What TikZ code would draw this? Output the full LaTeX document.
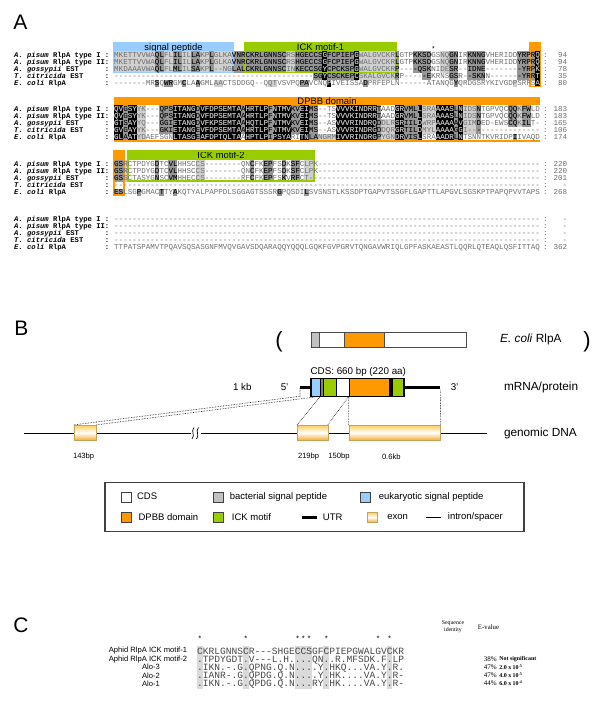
\documentclass[tikz,border=0pt]{standalone}
\usepackage{fontspec}
\setmainfont{Liberation Sans}
\setmonofont{Liberation Mono}
\newfontfamily\timesf{Liberation Serif}
\usetikzlibrary{positioning}
\definecolor{dpbb}{RGB}{255,153,0}
\definecolor{ick}{RGB}{153,204,0}
\definecolor{sigblue}{RGB}{153,204,255}
\definecolor{bactgray}{RGB}{192,192,192}
\definecolor{shK}{RGB}{0,0,0}
\definecolor{shD}{RGB}{150,150,150}
\definecolor{shL}{RGB}{208,208,208}
\definecolor{restext}{RGB}{110,110,110}
\definecolor{exontop}{RGB}{250,205,95}
\definecolor{exonbot}{RGB}{245,170,40}
\definecolor{exonedge}{RGB}{200,160,90}
\definecolor{cshade}{RGB}{218,218,218}
\newcommand{\fsz}[1]{\fontsize{#1}{#1}\selectfont}
\newcommand{\gapten}{----------}

% sequences of the four alignment blocks
\newcommand{\rowsA}{MKETTVVWAQLFLILILLAKPLGLKAVNRCKRLGNNSCRSHGECCSGFCPIEPGWALGVCKRLGTPKKSDGSNQGNIRKNNGVHERIDDYRPRQ,
  MKETTVVWAQLFLILILLAKPLGLKAVNRCKRLGNNSCRSHGECCSGFCPIEPGWALGVCKRLGTPKKSDGSNQGNIRKNNGVHERIDDYRPRQ,
  MKDAAAVWAQLFLMLILSAKPL--NGLALCKRLGNNSCINKECCSGYCPCKSPGWALGVCKRP----QSKNIDESR--IDNE--------YRPK,
  \gapten\gapten\gapten\gapten----SGYCSCKEPCSKALGVCKRP-----EKRNSGSR--SKNN-------YRRT,
  -------MRSQWRGMCLAAGMLAACTSDDGQ--QQTVSVPQPAVCNQPIVEISSADPRFEPLN------ATANQGYQRDGSRYKIVGDPSRFSA}
\newcommand{\rowsB}{QVGSYYK---QPSITANGDVFDPSEMTAAHRTLPFNTMVKVEIMS--TSVVVKINDRRTAADGRVMLLSRAAAASLNIDSNTGPVQCQQKFWLD,
  QVGSYYK---QPSITANGDVFDPSEMTAAHRTLPFNTMVKVEIMS--TSVVVKINDRRTAADGRVMLLSRAAAASLNIDSNTGPVQCQQKFWLD,
  GTSAYYQ---GGIETANGDVFKPSEMTAAHQTLPFNTMVKVEIMS--ASVVVRINDRQDDLRSRIILDWRPAAAAAVGIMDED-EWSCQKILT-,
  GVGAYYK---GKIETANGEVFDPSEMTAAHRTLPFNTMVKVEIMS--ASVVVRINDRGDDQRGRTILDMYLAAAAGGI\gapten------,
  GLAATYDAEFSGNLTASGEAFDPTQLTAAHPTLPIPSYARITNLANGRMIVVRINDRGPYGNDRVISLSRAAADRLNTSNNTKVRIDPIIVAQD}
\newcommand{\rowsC}{GSRCTPDYGDTCVLHHSCCS--------QNCFKEPFSDKSFCLPK\gapten\gapten\gapten\gapten---------,
  GSRCTPDYGDTCVLHHSCCS--------QNCFKEPFSDKSFCLPK\gapten\gapten\gapten\gapten---------,
  GSSCTASYGNSCVMHHECCS--------RFCFKEPFSKVRFCT\gapten\gapten\gapten\gapten\gapten-,
  \gapten\gapten\gapten\gapten\gapten\gapten\gapten\gapten\gapten----,
  ESLSGPGMACTTYAKQTYALPAPPDLSGGAGTSSSRGPQSDILSVSNSTLKSSDPTGAPVTSSGFLGAPTTLAPGVLSGSKPTPAPQPVVTAPS}
\newcommand{\rowsD}{\gapten\gapten\gapten\gapten\gapten\gapten\gapten\gapten\gapten----,
  \gapten\gapten\gapten\gapten\gapten\gapten\gapten\gapten\gapten----,
  \gapten\gapten\gapten\gapten\gapten\gapten\gapten\gapten\gapten----,
  \gapten\gapten\gapten\gapten\gapten\gapten\gapten\gapten\gapten----,
  TTPATSPAMVTPQAVSQSASGNFMVQVGAVSDQARAQQYQQQLGQKFGVPGRVTQNGAVWRIQLGPFASKAEASTLQQRLQTEAQLQSFITTAQ}

% shaded spans: first row/last row/first column/last column
\newcommand{\blackA}{1/4/46/46, 1/4/53/53, 1/5/93/93, 5/5/47/47}
\newcommand{\darkA}{1/3/9/10, 1/3/13/14, 1/3/17/18, 1/3/21/21, 1/3/26/28, 1/3/29/37, 1/3/40/43,
  1/4/44/45, 1/4/47/52, 1/4/62/62, 1/3/66/67, 1/4/68/69, 1/4/74/75, 1/4/78/81, 1/4/89/92,
  5/5/9/9, 5/5/11/12, 5/5/15/15, 5/5/18/18, 5/5/41/42, 5/5/55/55, 5/5/75/75}
\newcommand{\lightA}{1/3/0/8, 1/3/11/12, 1/3/15/16, 1/3/19/20, 1/3/22/25, 1/3/38/39, 1/4/54/61,
  1/3/72/73, 5/5/22/23, 5/5/34/35, 5/5/88/88}
\newcommand{\blackB}{1/5/0/1, 1/5/3/4, 1/5/13/17, 1/5/19/27, 1/5/29/33, 1/5/35/38, 1/5/41/42,
  1/5/49/57, 1/5/62/63, 1/5/67/67, 1/5/71/74, 1/5/76/76}
\newcommand{\darkB}{1/5/2/2, 1/4/10/12, 1/5/18/18, 1/4/28/28, 1/5/34/34, 1/4/39/40, 1/5/43/44,
  1/5/58/58, 1/5/64/66, 1/5/75/75, 1/4/80/80, 1/3/87/88, 1/3/90/91, 5/5/88/88}
\newcommand{\lightB}{1/5/5/6, 5/5/45/48, 3/5/59/61, 1/4/68/70, 1/4/77/79, 1/3/89/89}
\newcommand{\darkC}{1/3/0/1, 5/5/0/1, 1/3/9/9, 1/3/12/13, 1/3/30/30, 1/3/33/34, 1/3/37/37,
  1/3/39/40, 5/5/5/5, 5/5/10/10, 5/5/13/13, 5/5/36/36, 5/5/42/42}
\newcommand{\lightC}{1/3/2/2, 1/3/18/19, 1/3/42/43}

% #1 = centre of first row, #2 = spans, #3 = colour
\newcommand{\fillspans}[3]{\foreach \ra/\rb/\ca/\cb in #2
  \fill[#3] (114+4.53*\ca,#1-10.8+7.2*\ra) rectangle (118.53+4.53*\cb,#1-3.6+7.2*\rb);}
\newcommand{\clipspans}[2]{\clip \foreach \ra/\rb/\ca/\cb in #2
  {(114+4.53*\ca,#1-10.8+7.2*\ra) rectangle (118.53+4.53*\cb,#1-3.6+7.2*\rb)};}
% #1 = rows, #2 = centre of first row, #3 = text colour, #4 = name prefix
\newcommand{\seqrows}[4]{\foreach \sq [count=\i] in #1
  \node[seq, text=#3] (#4-\i) at (114,#2-7.2+7.2*\i) {\sq};}

\begin{document}
\begin{tikzpicture}[x=1pt, y=-1pt]
\tikzstyle{panel} = [font=\fsz{21}, inner sep=0pt]
\tikzstyle{seq} = [anchor=west, inner sep=0pt, text height=5pt, text depth=0pt,
    font=\ttfamily\fsz{7.55}, text=restext]
\tikzstyle{seqlab} = [anchor=west, inner sep=0pt, text height=5pt, text depth=0pt,
    font=\ttfamily\bfseries\fsz{7.2}]
\tikzstyle{seqnum} = [seq]
\tikzstyle{headtxt} = [font=\fsz{9.4}, inner sep=0pt, text height=6.8pt, text depth=0pt]
\tikzstyle{btxt} = [font=\fsz{11.8}, inner sep=0pt]
\tikzstyle{stxt} = [font=\fsz{9.8}, inner sep=0pt]
\tikzstyle{etxt} = [font=\fsz{7.6}, inner sep=0pt]
\tikzstyle{paren} = [font=\fsz{22}, inner sep=0pt]
\tikzstyle{exonbox} = [draw=exonedge, top color=exontop, bottom color=exonbot,
    middle color=white, minimum height=15.5pt, inner sep=0pt]
\tikzstyle{dotline} = [densely dotted, line width=0.6pt]
\tikzstyle{legsq} = [draw=black!75, minimum width=10pt, minimum height=10pt, inner sep=0pt]
\tikzstyle{legtxt} = [font=\fsz{9.5}, inner sep=0pt]
\tikzstyle{clab} = [font=\fsz{7.6}, inner sep=0pt]
\tikzstyle{cseq} = [anchor=west, inner sep=0pt, text height=6pt, text depth=0pt,
    font=\ttfamily\fsz{9.58}, text=black!72]
\tikzstyle{ctxt} = [font=\timesf\fsz{7}, inner sep=0pt]
\useasboundingbox (0,0) rectangle (600,716);

% panel letters
\node[panel] (pA) at (20.5,22.5) {A};
\node[panel] (pB) at (21.5,328.5) {B};
\node[panel] (pC) at (21,625) {C};

% ---------- A: alignment ----------
% domain bars
\fill[sigblue] (114,42.5) rectangle (233,51);
\fill[ick] (245,42.5) rectangle (396,51);
\fill[dpbb] (530,42.5) rectangle (540.5,51);
\fill[dpbb] (114,96.5) rectangle (540,104.9);
\fill[dpbb] (114,151) rectangle (124,159.9);
\fill[ick] (128,151) rectangle (314,159.9);
\node[headtxt] (hsp) at (173.5,46.8) {signal peptide};
\node[headtxt] (hick1) at (320.5,46.8) {ICK motif-1};
\node[headtxt] (hdpbb) at (327,100.7) {DPBB domain};
\node[headtxt] (hick2) at (221,155.5) {ICK motif-2};
\node[font=\ttfamily\fsz{7}, inner sep=0pt] (ast) at (433.4,48.5) {*};

% residue shading
\fillspans{54.5}{\lightA}{shL}
\fillspans{54.5}{\darkA}{shD}
\fillspans{54.5}{\blackA}{shK}
\fillspans{108.5}{\lightB}{shL}
\fillspans{108.5}{\darkB}{shD}
\fillspans{108.5}{\blackB}{shK}
\fillspans{163.5}{\lightC}{shL}
\fillspans{163.5}{\darkC}{shD}

% domain frames
\draw[sigblue, line width=1.2pt] (114,42.5) rectangle (233,72.5);
\draw[ick, line width=1.2pt] (245,42.5) rectangle (396,72.5);
\draw[dpbb, line width=1.2pt] (530,42.5) rectangle (540.5,86.5);
\draw[dpbb, line width=1.2pt] (114,141) -- (540,141);
\draw[dpbb, line width=1.2pt] (114,151) rectangle (124,195);
\draw[ick, line width=1.2pt] (128,151) rectangle (314,181);

% row names
\foreach \yb [count=\k] in {47.3,101.3,156.3,211.3}
  \foreach \lb [count=\i] in {\textit{A. pisum} RlpA type I, \textit{A. pisum} RlpA type II,
      \textit{A. gossypii} EST, \textit{T. citricida} EST, \textit{E. coli} RlpA}
    \node[seqlab] (lab\k-\i) at (14,\yb+7.2*\i) {\makebox[90.7pt][l]{\lb}:};

% sequences
\seqrows{\rowsA}{54.5}{restext}{a1}
\seqrows{\rowsB}{108.5}{restext}{a2}
\seqrows{\rowsC}{163.5}{restext}{a3}
\seqrows{\rowsD}{218.5}{restext}{a4}
% light letters on black, black letters on grey
\begin{scope}
  \clipspans{54.5}{\blackA}
  \seqrows{\rowsA}{54.5}{black!18}{w1}
\end{scope}
\begin{scope}
  \clipspans{108.5}{\blackB}
  \seqrows{\rowsB}{108.5}{black!18}{w2}
\end{scope}
\begin{scope}
  \clipspans{54.5}{\darkA}
  \seqrows{\rowsA}{54.5}{black}{k1}
\end{scope}
\begin{scope}
  \clipspans{108.5}{\darkB}
  \seqrows{\rowsB}{108.5}{black}{k2}
\end{scope}
\begin{scope}
  \clipspans{163.5}{\darkC}
  \seqrows{\rowsC}{163.5}{black}{k3}
\end{scope}

% residue counts
\foreach \yb/\nums [count=\k] in {47.3/{94,94,78,35,80}, 101.3/{183,183,165,106,174},
    156.3/{220,220,201,-,268}, 211.3/{-,-,-,-,362}}
  \foreach \nm [count=\i] in \nums
    \node[seqnum] (n\k-\i) at (543,\yb+7.2*\i) {\makebox[6pt][l]{:}\makebox[18pt][r]{\nm}};

% ---------- B: gene model ----------
\filldraw[fill=bactgray, draw=black!70] (311.5,331.7) rectangle (319.2,346.7);
\filldraw[fill=white, draw=black!70] (319.2,331.7) rectangle (344.2,346.7);
\filldraw[fill=dpbb, draw=black!70] (344.2,331.7) rectangle (384.6,346.7);
\filldraw[fill=white, draw=black!70] (384.6,331.7) rectangle (466.5,346.7);
\node[paren] (pl) at (279,341.5) {(};
\node[paren] (pr) at (587,341.5) {)};
\node[btxt, anchor=west] (ecl) at (500,339.5) {\textit{E. coli} RlpA};

\node[stxt] (cdsl) at (358.3,371.7) {CDS: 660 bp (220 aa)};
\coordinate (u5) at (300,387.7);
\coordinate (u3) at (440.4,387.7);
\draw[line width=3.4pt] (u5) -- (u3);
\filldraw[fill=sigblue] (310.8,378.3) rectangle (320.4,396.3);
\filldraw[fill=black!50] (320.4,378.3) rectangle (323.1,396.3);
\filldraw[fill=ick] (323.1,378.3) rectangle (335.8,396.3);
\filldraw[fill=white] (335.8,378.3) rectangle (348.8,396.3);
\filldraw[fill=dpbb] (348.8,378.3) rectangle (389.2,396.3);
\filldraw[fill=black] (389.2,378.3) rectangle (392.3,396.3);
\filldraw[fill=ick] (392.3,378.3) rectangle (403.8,396.3);
\node[draw, line width=1.3pt, minimum width=93pt, minimum height=18pt, inner sep=0pt] (cds) at (357.3,387.3) {};
\node[stxt] (kb) at (242.3,387.3) {1 kb};
\node[stxt] (p5) at (284.6,387) {5'};
\node[stxt] (p3) at (454.6,387) {3'};
\node[btxt, anchor=west] (mrna) at (503.8,387.5) {mRNA/protein};

\coordinate (g1) at (23.8,433.3);
\coordinate (g2) at (486.5,433.3);
\draw[line width=0.7pt] (g1) -- (g2);
\node[exonbox, minimum width=22pt] (ex1) at (85.2,432.8) {};
\node[exonbox, minimum width=30.4pt] (ex2) at (312.5,432.8) {};
\node[exonbox, minimum width=91.6pt] (ex3) at (394.6,432.8) {};
\fill[white] (191,427) rectangle (201,439.5);
\draw[line width=0.7pt] (192,439) .. controls (195.5,435) and (190.5,431.5) .. (194,427.5);
\draw[line width=0.7pt] (196.5,439) .. controls (200,435) and (195,431.5) .. (198.5,427.5);
\node[btxt, anchor=west] (gdna) at (503.8,433.3) {genomic DNA};
\node[etxt] (l143) at (83.6,456.7) {143bp};
\node[etxt] (l219) at (308.6,456.7) {219bp};
\node[etxt] (l150) at (339,456.7) {150bp};
\node[etxt] (l06) at (391.3,456.7) {0.6kb};

\coordinate (m1) at (300,396.3);
\coordinate (m2) at (320.4,396.3);
\coordinate (m3) at (348.8,396.3);
\coordinate (m4) at (440.4,389.5);
\draw[dotline] (ex1.north west) -- (m1) -- (u5);
\draw[dotline] (ex1.north east) -- (m2);
\draw[dotline] (ex2.north west) -- (m2);
\draw[dotline] (ex2.north east) -- (m3);
\draw[dotline] (ex3.north west) -- (m3);
\draw[dotline] (ex3.north east) -- (m4);

% legend
\node[draw=black!75, line width=1.1pt, minimum width=419pt, minimum height=49pt, inner sep=0pt] (legend) at (314.5,507.2) {};
\node[legsq, fill=white] (lcds) at (126.2,496.7) {};
\node[legtxt, right=5.5pt of lcds] (tcds) {CDS};
\node[legsq, fill=bactgray] (lbsp) at (218.5,496.7) {};
\node[legtxt, right=6pt of lbsp] (tbsp) {bacterial signal peptide};
\node[legsq, fill=sigblue] (lesp) at (365.5,496.7) {};
\node[legtxt, right=8pt of lesp] (tesp) {eukaryotic signal peptide};
\node[legsq, fill=dpbb] (ldpbb) at (126.2,517.3) {};
\node[legtxt, right=7pt of ldpbb] (tdpbb) {DPBB domain};
\node[legsq, fill=ick] (lick) at (218.5,517.3) {};
\node[legtxt, right=8pt of lick] (tick) {ICK motif};
\coordinate (lu1) at (301.7,517.3);
\coordinate (lu2) at (316.7,517.3);
\draw[line width=3pt] (lu1) -- (lu2);
\node[legtxt, right=6pt of lu2] (tutr) {UTR};
\node[legsq, draw=exonedge, top color=exontop, bottom color=exonbot, middle color=white] (lex) at (372,517.3) {};
\node[legtxt, right=10pt of lex] (texon) {exon};
\coordinate (li1) at (426,517.3);
\coordinate (li2) at (440.7,517.3);
\draw[line width=0.8pt] (li1) -- (li2);
\node[legtxt, right=7pt of li2] (tintr) {intron/spacer};

% ---------- C: ICK motif alignment ----------
\foreach \c in {0,8,17,18,19,22,33}
  \fill[cshade] (196.9+5.75*\c,645.5) rectangle (202.65+5.75*\c,688.5);
\foreach \c [count=\i] in {0,8,17,18,19,22,31,33}
  \node[font=\ttfamily\fsz{7.5}, inner sep=0pt] (st\i) at (199.8+5.75*\c,639) {*};
\node[clab] (cl1) at (148,651) {Aphid RlpA ICK motif-1};
\node[clab] (cl2) at (148,659.1) {Aphid RlpA ICK motif-2};
\node[clab] (cl3) at (151,667.2) {Alo-3};
\node[clab] (cl4) at (151,675.3) {Alo-2};
\node[clab] (cl5) at (151,683.4) {Alo-1};
\node[cseq] (cs1) at (196.9,651) {CKRLGNNSCR---SHGECCSGFCPIEPGWALGVCKR};
\node[cseq] (cs2) at (196.9,659.1) {.TPDYGDT.V---L.H....QN..R.MFSDK.F.LP};
\node[cseq] (cs3) at (196.9,667.2) {.IKN.-.G.QPNG.Q.N....Y.HKQ...VA.Y.R.};
\node[cseq] (cs4) at (196.9,675.3) {.IANR-.G.QPDG.Q.N....Y.HK....VA.Y.R-};
\node[cseq] (cs5) at (196.9,683.4) {.IKN.-.G.QPDG.Q.N...RY.HK....VA.Y.R-};
\node[ctxt, align=center, font=\timesf\fsz{5.8}] (hid) at (453,626.3) {Sequence\\[1pt]identity};
\node[ctxt, font=\timesf\fsz{6.8}] (hev) at (488.5,627.3) {E-value};
\foreach \pc/\ev [count=\i] in {38\%/Not significant, 47\%/2.0 x 10\textsuperscript{-5},
    47\%/4.0 x 10\textsuperscript{-5}, 44\%/6.0 x 10\textsuperscript{-4}}
{
  \node[ctxt] (pc\i) at (490.4,651+8.1*\i) {\pc};
  \node[ctxt, anchor=west, font=\timesf\bfseries\fsz{5.9}] (ev\i) at (499.2,651+8.1*\i) {\ev};
}
\end{tikzpicture}
\end{document}
